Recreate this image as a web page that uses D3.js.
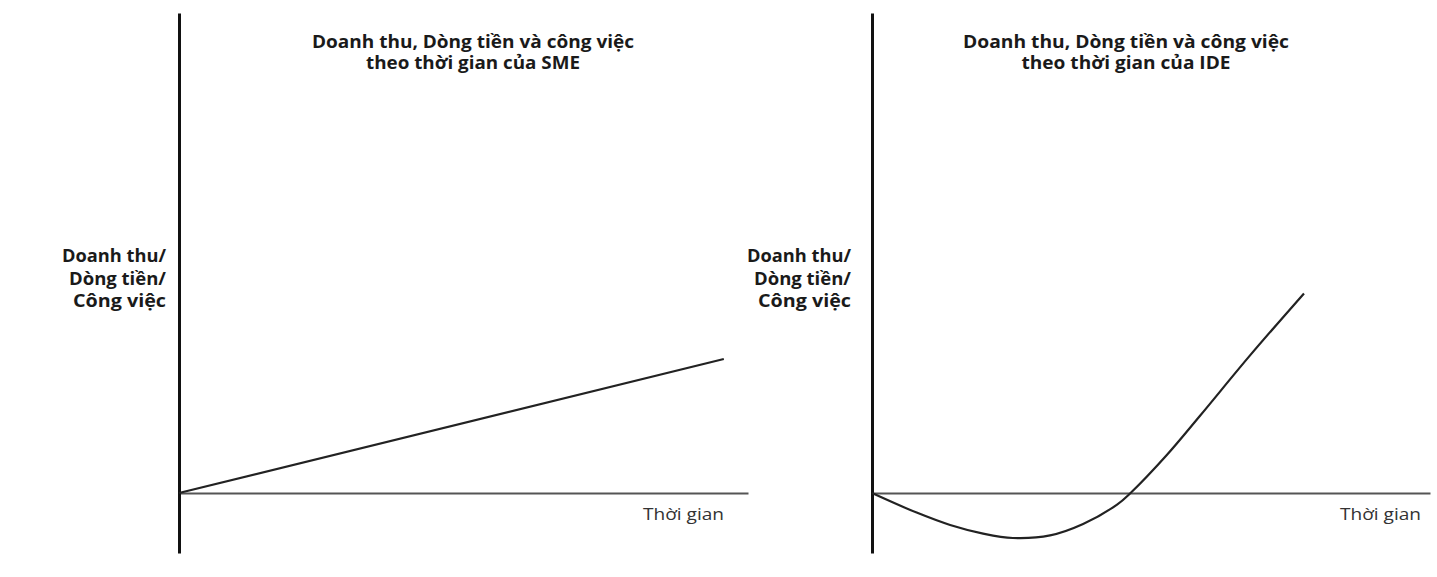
<!DOCTYPE html>
<html>
<head>
<meta charset="utf-8">
<script src="https://cdn.jsdelivr.net/npm/d3@7"></script>
<style>
  html, body { margin: 0; padding: 0; background: #fff; }
  svg { display: block; }
  text { font-family: "Open Sans", "Noto Sans", sans-serif; }
</style>
</head>
<body>
<svg id="chart" width="1437" height="577"></svg>
<script>
// ---- data ----
const panelTitlesLine1 = ["Doanh thu, Dòng tiền và công việc", "Doanh thu, Dòng tiền và công việc"];
const panelTitlesLine2 = ["theo thời gian của SME", "theo thời gian của IDE"];
const yLabelLines = ["Doanh thu/", "Dòng tiền/", "Công việc"];
const xLabel = "Thời gian";

const smeTime  = [0, 11.49];
const smeValue = [0, 6.7];

const ideTime  = [0, 0.96, 1.68, 2.39, 3.03, 3.83, 4.54, 5.27, 5.56, 6.34, 7.05, 8.13, 9.29];
const ideValue = [0, -0.98, -1.6, -2.03, -2.25, -2.12, -1.55, -0.58, 0, 1.9, 3.85, 6.88, 9.98];

// ---- layout ----
const svg = d3.select("#chart");
const panels = [
  { originX: 179, axisLen: 569, time: smeTime, value: smeValue,
    titleCx: 473, t1w: 322, t2w: 214, labelRight: 166, xLabelX: 643 },
  { originX: 872, axisLen: 558, time: ideTime, value: ideValue,
    titleCx: 1126, t1w: 326, t2w: 209, labelRight: 851, xLabelX: 1340 }
];

const y = d3.scaleLinear().domain([-3, 24]).range([553, 13]);

panels.forEach((p, i) => {
  const x = d3.scaleLinear().domain([0, 12]).range([p.originX, p.originX + p.axisLen]);
  const g = svg.append("g");

  // horizontal axis (time)
  const xAxis = g.append("g")
    .attr("transform", `translate(0,${y(0)})`)
    .call(d3.axisBottom(x).tickValues([]).tickSizeOuter(0));
  xAxis.select(".domain").attr("stroke", "#555").attr("stroke-width", 2.2);

  // vertical axis
  const yAxis = g.append("g")
    .attr("transform", `translate(${x(0)},0)`)
    .call(d3.axisLeft(y).tickValues([]).tickSizeOuter(0));
  yAxis.select(".domain").attr("stroke", "#111").attr("stroke-width", 3);

  // series line
  const pts = p.time.map((t, k) => [t, p.value[k]]);
  g.append("path")
    .datum(pts)
    .attr("fill", "none")
    .attr("stroke", "#222")
    .attr("stroke-width", 2.2)
    .attr("d", d3.line().x(d => x(d[0])).y(d => y(d[1])).curve(d3.curveCatmullRom.alpha(0.5)));

  // title
  g.append("text")
    .attr("x", p.titleCx).attr("y", 48)
    .attr("text-anchor", "middle")
    .attr("font-size", 17).attr("font-weight", 700).attr("fill", "#1a1a1a")
    .attr("textLength", p.t1w).attr("lengthAdjust", "spacingAndGlyphs")
    .text(panelTitlesLine1[i]);
  g.append("text")
    .attr("x", p.titleCx).attr("y", 69)
    .attr("text-anchor", "middle")
    .attr("font-size", 17).attr("font-weight", 700).attr("fill", "#1a1a1a")
    .attr("textLength", p.t2w).attr("lengthAdjust", "spacingAndGlyphs")
    .text(panelTitlesLine2[i]);

  // y label
  const labelWidths = [104, 97, 93];
  yLabelLines.forEach((s, k) => {
    g.append("text")
      .attr("x", p.labelRight).attr("y", 262 + k * 22.5)
      .attr("text-anchor", "end")
      .attr("font-size", 18).attr("font-weight", 700).attr("fill", "#1a1a1a")
      .attr("textLength", labelWidths[k]).attr("lengthAdjust", "spacingAndGlyphs")
      .text(s);
  });

  // x label
  g.append("text")
    .attr("x", p.xLabelX).attr("y", 520)
    .attr("font-size", 17).attr("fill", "#333")
    .attr("textLength", 81).attr("lengthAdjust", "spacingAndGlyphs")
    .text(xLabel);
});
</script>
</body>
</html>
